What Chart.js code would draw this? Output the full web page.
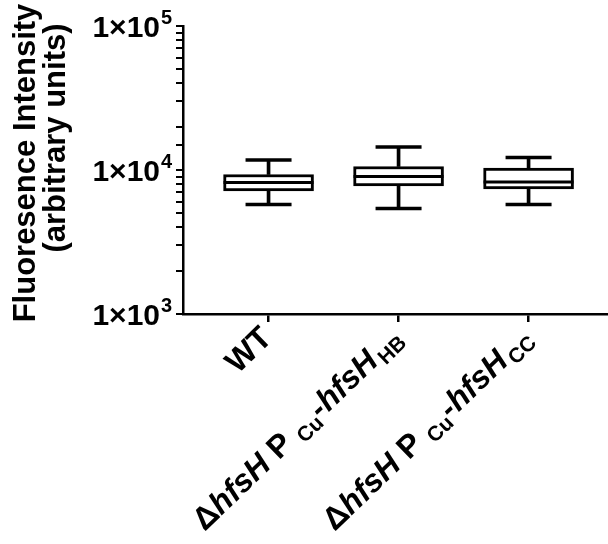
<!DOCTYPE html>
<html>
<head>
<meta charset="utf-8">
<script src="https://cdn.jsdelivr.net/npm/chart.js@4/dist/chart.umd.min.js"></script>
<style>
html,body{margin:0;padding:0;background:#fff;}
canvas{display:block;}
</style>
</head>
<body>
<canvas id="c" width="608" height="544"></canvas>
<script>
// ---- data ----
const categories = ['WT', 'ΔhfsH P Cu-hfsH HB', 'ΔhfsH P Cu-hfsH CC'];
const categoryMarkup = ['WT', 'Δ<i>hfsH</i> P <sub>Cu</sub><i>-hfsH</i><sub>HB</sub>', 'Δ<i>hfsH</i> P <sub>Cu</sub><i>-hfsH</i><sub>CC</sub>'];
const whiskerMin = [5760, 5400, 5760];
const q1 = [7150, 7740, 7380];
const median = [8190, 9010, 8250];
const q3 = [9310, 10580, 10330];
const whiskerMax = [11730, 14450, 12210];
const yTickValues = [1000, 10000, 100000];
const yTickMantissa = ['1×10', '1×10', '1×10'];
const yTickExponents = ['3', '4', '5'];
const yTitleLines = ['Fluoresence Intensity', '(arbitrary units)'];

const FONT = '"Liberation Sans", Arial, Helvetica, sans-serif';

function parseMarkup(s) {
  const re = /<(i|sub)>(.*?)<\/\1>|([^<]+)/g;
  const out = [];
  let m;
  while ((m = re.exec(s)) !== null) {
    if (m[1]) out.push({ t: m[2], k: m[1] });
    else out.push({ t: m[3], k: 'n' });
  }
  return out;
}

const textPlugin = {
  id: 'textPlugin',
  afterDraw(chart) {
    const ctx = chart.ctx;
    const xs = chart.scales.x, ys = chart.scales.y;
    ctx.save();
    ctx.fillStyle = '#000';
    // y title
    ctx.font = 'bold 31px ' + FONT;
    ctx.textAlign = 'center';
    ctx.textBaseline = 'alphabetic';
    const titlePos = [[35, 163], [65, 138]];
    yTitleLines.forEach((line, i) => {
      ctx.save();
      ctx.translate(titlePos[i][0], titlePos[i][1]);
      ctx.rotate(-Math.PI / 2);
      ctx.fillText(line, 0, 0);
      ctx.restore();
    });
    // y tick labels
    yTickValues.forEach((v, i) => {
      const y = ys.getPixelForValue(v);
      ctx.font = 'bold 30px ' + FONT;
      ctx.textAlign = 'right';
      ctx.textBaseline = 'middle';
      ctx.fillText(yTickMantissa[i], 160, y + 3);
      ctx.font = 'bold 20px ' + FONT;
      ctx.textAlign = 'left';
      ctx.fillText(yTickExponents[i], 161, y - 8);
    });
    // x tick labels
    const ang = -44 * Math.PI / 180;
    categoryMarkup.forEach((mk, i) => {
      const x = xs.getPixelForValue(i);
      const segs = parseMarkup(mk);
      const fontOf = k => k === 'sub' ? 'bold 21px ' + FONT : (k === 'i' ? 'italic bold 32px ' + FONT : 'bold 32px ' + FONT);
      let total = 0;
      segs.forEach((s, j) => {
        ctx.font = fontOf(s.k);
        s.pre = (s.k === 'sub' && j === segs.length - 1) ? 3 : 0;
        s.w = ctx.measureText(s.t).width + s.pre;
        total += s.w;
      });
      ctx.save();
      ctx.translate(x + 5, 340);
      ctx.rotate(ang);
      ctx.textAlign = 'left';
      ctx.textBaseline = 'alphabetic';
      let cx = -total;
      segs.forEach(s => {
        ctx.font = fontOf(s.k);
        ctx.fillText(s.t, cx + s.pre, s.k === 'sub' ? 6 : 0);
        cx += s.w;
      });
      ctx.restore();
    });
    ctx.restore();
  }
};

const idx = categories.map((c, i) => i);

new Chart(document.getElementById('c'), {
  type: 'bar',
  data: {
    datasets: [
      {
        label: 'upper whisker', type: 'bar', order: 5, grouped: false,
        data: idx.map(i => ({ x: i, y: [q3[i], whiskerMax[i]] })),
        backgroundColor: '#000', borderWidth: 0, barThickness: 3
      },
      {
        label: 'lower whisker', type: 'bar', order: 5, grouped: false,
        data: idx.map(i => ({ x: i, y: [whiskerMin[i], q1[i]] })),
        backgroundColor: '#000', borderWidth: 0, barThickness: 3
      },
      {
        label: 'box', type: 'bar', order: 3, grouped: false,
        data: idx.map(i => ({ x: i, y: [q1[i], q3[i]] })),
        backgroundColor: '#fff', borderColor: '#000', borderWidth: 3,
        borderSkipped: false, barThickness: 90
      },
      {
        label: 'median', type: 'line', order: 1, showLine: false,
        data: idx.map(i => ({ x: i, y: median[i] })),
        pointStyle: 'line', pointRadius: 45, pointBorderWidth: 3,
        pointBorderColor: '#000', pointBackgroundColor: '#000', borderColor: '#000'
      },
      {
        label: 'max', type: 'line', order: 1, showLine: false,
        data: idx.map(i => ({ x: i, y: whiskerMax[i] })),
        pointStyle: 'line', pointRadius: 23, pointBorderWidth: 3.5,
        pointBorderColor: '#000', pointBackgroundColor: '#000', borderColor: '#000'
      },
      {
        label: 'min', type: 'line', order: 1, showLine: false,
        data: idx.map(i => ({ x: i, y: whiskerMin[i] })),
        pointStyle: 'line', pointRadius: 23, pointBorderWidth: 3.5,
        pointBorderColor: '#000', pointBackgroundColor: '#000', borderColor: '#000'
      }
    ]
  },
  options: {
    responsive: false,
    animation: false,
    devicePixelRatio: 1,
    events: [],
    layout: { autoPadding: false, padding: { top: 26, left: 0, right: 0, bottom: 0 } },
    plugins: { legend: { display: false }, tooltip: { enabled: false } },
    scales: {
      x: {
        type: 'linear', min: -0.658, max: 2.611, offset: false,
        afterBuildTicks: s => { s.ticks = idx.map(v => ({ value: v })); },
        afterFit: s => { s.height = 230; },
        ticks: { display: false },
        grid: { offset: false, drawOnChartArea: false, drawTicks: true, tickLength: 8, color: '#000', lineWidth: 2.5 },
        border: { display: true, color: '#000', width: 2.5 }
      },
      y: {
        type: 'logarithmic', min: 1000, max: 100000,
        afterFit: s => { s.width = 183; },
        ticks: { display: false },
        grid: { drawOnChartArea: false, drawTicks: true, tickLength: 7, color: '#000', lineWidth: 2 },
        border: { display: true, color: '#000', width: 2.5 }
      }
    }
  },
  plugins: [textPlugin]
});
</script>
</body>
</html>
